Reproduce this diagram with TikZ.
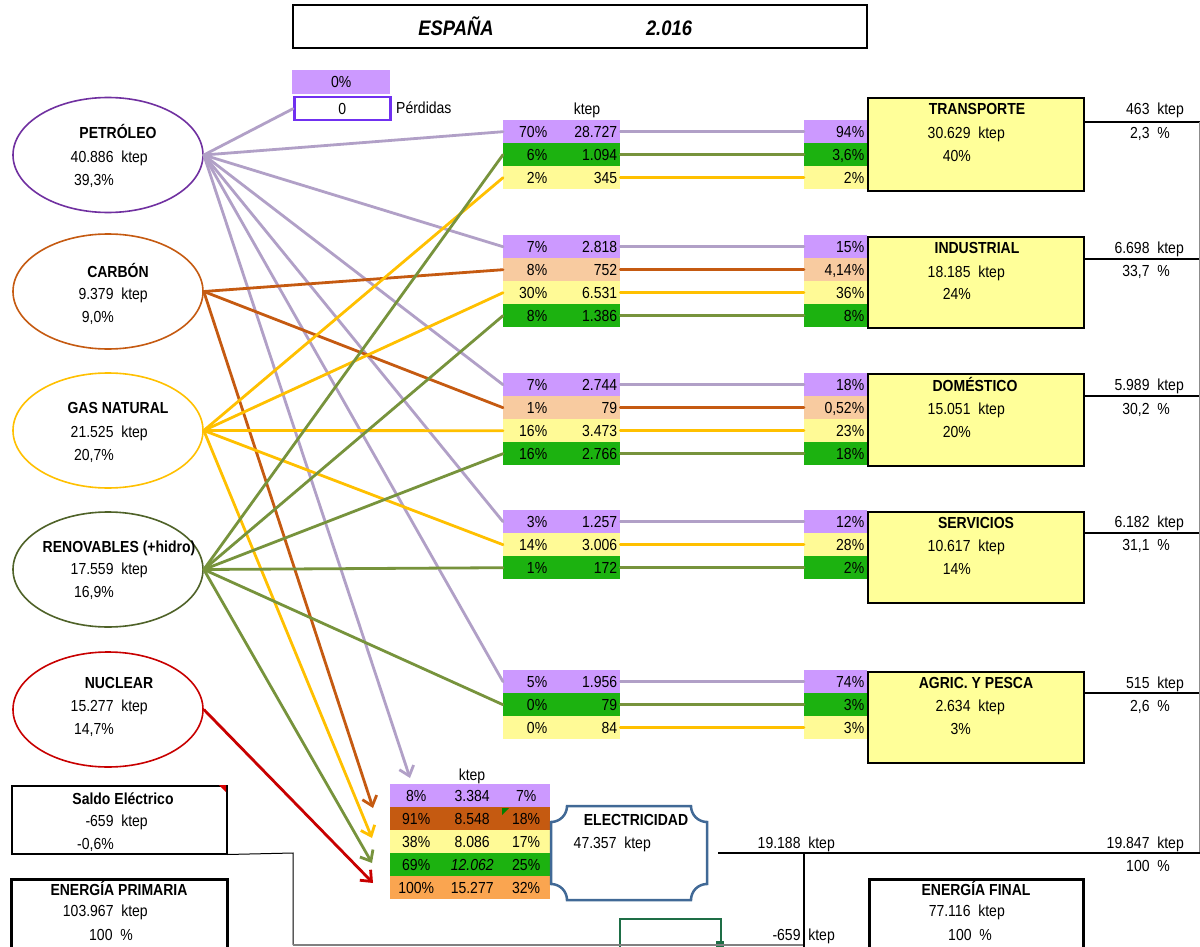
\documentclass[tikz,border=0pt]{standalone}
\usepackage{fontspec}
\setmainfont{Liberation Sans}[FakeStretch=0.875]
\usetikzlibrary{arrows.meta,shapes.geometric}
\definecolor{fillP}{RGB}{204,153,255}
\definecolor{fillG}{RGB}{28,178,16}
\definecolor{fillY}{RGB}{255,250,150}
\definecolor{fillS}{RGB}{248,203,160}
\definecolor{fillB}{RGB}{197,90,17}
\definecolor{fillO}{RGB}{250,165,80}
\definecolor{secY}{RGB}{255,255,153}
\definecolor{lnP}{RGB}{177,160,199}
\definecolor{lnC}{RGB}{197,90,17}
\definecolor{lnG}{RGB}{255,192,0}
\definecolor{lnR}{RGB}{119,147,60}
\definecolor{lnN}{RGB}{200,0,0}
\definecolor{elP}{RGB}{112,48,160}
\definecolor{elR}{RGB}{79,98,40}
\definecolor{elecB}{RGB}{65,105,150}
\definecolor{perdB}{RGB}{112,48,240}
\definecolor{boxG}{RGB}{30,110,70}
\tikzset{
  every node/.style={font=\fontsize{16}{19}\selectfont, inner sep=0pt, text height=11.5pt, text depth=0pt},
  cellbase/.style={minimum height=23pt, anchor=north west},
  lc/.style={cellbase, minimum width=117pt, fill=#1},
  rc/.style={cellbase, minimum width=63pt, fill=#1},
  ec/.style={cellbase, minimum width=160pt, fill=#1},
  src/.style={draw=#1, line width=1.6pt, ellipse, minimum width=190pt, minimum height=115pt},
  sector/.style={draw=black, line width=2pt, fill=secY, anchor=north west, minimum width=216pt},
  flow/.style={line width=2.8pt, line cap=round},
  arr/.style={line width=2.8pt, -{Straight Barb[length=9pt,width=15pt]}},
  rt/.style={anchor=east},
  bt/.style={font=\fontsize{16}{19}\selectfont\bfseries},
  ttl/.style={font=\fontsize{21}{24}\selectfont\bfseries\itshape, text height=15pt},
}
\newcommand\LC[5]{\node[lc=#2] (#1) at (503,#3) {\makebox[44pt][r]{#4}\makebox[70pt][r]{#5}\hspace*{3pt}};}
\newcommand\RC[4]{\node[rc=#2] (#1) at (804,#3) {\makebox[60pt][r]{#4}\hspace*{3pt}};}
\newcommand\EC[6]{\node[ec=#2] (#1) at (390,#3) {\makebox[52pt]{#4}\makebox[60pt]{#5}\makebox[48pt]{#6}};}
\begin{document}
\begin{tikzpicture}[x=1pt,y=-1pt]
\useasboundingbox (0,0) rectangle (1200,947);
\fill[white] (0,0) rectangle (1200,947);

% title
\node[draw, line width=1.5pt, minimum width=574pt, minimum height=43pt, text height=0pt] (title) at (580,26.5) {};
\node[ttl] (tEsp) at (456,28) {ESPAÑA};
\node[ttl] (tYear) at (669,28) {2.016};

% perdidas
\node[cellbase, fill=fillP, minimum width=98pt, minimum height=24pt] (perdpct) at (292,70) {0\%};
\node[cellbase, draw=perdB, line width=2.5pt, minimum width=96pt, minimum height=23pt] (perd) at (293,96) {0};
\node[anchor=west] (perdL) at (396,108) {Pérdidas};
\node (ktepTop) at (587,109) {ktep};

% source ellipses
\node[src=elP] (pet) at (108,155) {};
\node[src=lnC] (car) at (108,291.5) {};
\node[src=lnG] (gas) at (108,430.5) {};
\node[src=elR] (ren) at (108,569.5) {};
\node[src=lnN] (nuc) at (108,709.5) {};
\node[bt] (petN) at (118,133) {PETRÓLEO};
\node[rt] (petV) at (148,157) {40.886~~ktep};
\node[rt] (petP) at (114,180) {39,3\%};
\node[bt] (carN) at (118,272) {CARBÓN};
\node[rt] (carV) at (148,294) {9.379~~ktep};
\node[rt] (carP) at (114,317) {9,0\%};
\node[bt] (gasN) at (118,408) {GAS NATURAL};
\node[rt] (gasV) at (148,432) {21.525~~ktep};
\node[rt] (gasP) at (114,455) {20,7\%};
\node[bt] (renN) at (119,547) {RENOVABLES (+hidro)};
\node[rt] (renV) at (148,569) {17.559~~ktep};
\node[rt] (renP) at (114,592) {16,9\%};
\node[bt] (nucN) at (119,683) {NUCLEAR};
\node[rt] (nucV) at (148,706) {15.277~~ktep};
\node[rt] (nucP) at (114,729) {14,7\%};

% left cells
\LC{t1}{fillP}{120}{70\%}{28.727}
\LC{t2}{fillG}{143}{6\%}{1.094}
\LC{t3}{fillY}{166}{2\%}{345}
\LC{i1}{fillP}{235}{7\%}{2.818}
\LC{i2}{fillS}{258}{8\%}{752}
\LC{i3}{fillY}{281}{30\%}{6.531}
\LC{i4}{fillG}{304}{8\%}{1.386}
\LC{d1}{fillP}{373}{7\%}{2.744}
\LC{d2}{fillS}{396}{1\%}{79}
\LC{d3}{fillY}{419}{16\%}{3.473}
\LC{d4}{fillG}{442}{16\%}{2.766}
\LC{s1}{fillP}{510}{3\%}{1.257}
\LC{s2}{fillY}{533}{14\%}{3.006}
\LC{s3}{fillG}{556}{1\%}{172}
\LC{a1}{fillP}{670}{5\%}{1.956}
\LC{a2}{fillG}{693}{0\%}{79}
\LC{a3}{fillY}{716}{0\%}{84}

% right cells
\RC{T1}{fillP}{120}{94\%}
\RC{T2}{fillG}{143}{3,6\%}
\RC{T3}{fillY}{166}{2\%}
\RC{I1}{fillP}{235}{15\%}
\RC{I2}{fillS}{258}{4,14\%}
\RC{I3}{fillY}{281}{36\%}
\RC{I4}{fillG}{304}{8\%}
\RC{D1}{fillP}{373}{18\%}
\RC{D2}{fillS}{396}{0,52\%}
\RC{D3}{fillY}{419}{23\%}
\RC{D4}{fillG}{442}{18\%}
\RC{S1}{fillP}{510}{12\%}
\RC{S2}{fillY}{533}{28\%}
\RC{S3}{fillG}{556}{2\%}
\RC{A1}{fillP}{670}{74\%}
\RC{A2}{fillG}{693}{3\%}
\RC{A3}{fillY}{716}{3\%}

% sector boxes
\node[sector, minimum height=93pt] (tra) at (867,97) {};
\node[sector, minimum height=91pt] (ind) at (867,236) {};
\node[sector, minimum height=92pt] (dom) at (867,373) {};
\node[sector, minimum height=91pt] (ser) at (867,511) {};
\node[sector, minimum height=91pt] (agr) at (867,671) {};
\node[bt] (traN) at (977,109) {TRANSPORTE};
\node[rt] (traV) at (1005,133) {30.629~~ktep};
\node[rt] (traP) at (971,156) {40\%};
\node[bt] (indN) at (977,248) {INDUSTRIAL};
\node[rt] (indV) at (1005,272) {18.185~~ktep};
\node[rt] (indP) at (971,294) {24\%};
\node[bt] (domN) at (975,386) {DOMÉSTICO};
\node[rt] (domV) at (1005,409) {15.051~~ktep};
\node[rt] (domP) at (971,432) {20\%};
\node[bt] (serN) at (976,523) {SERVICIOS};
\node[rt] (serV) at (1005,546) {10.617~~ktep};
\node[rt] (serP) at (971,569) {14\%};
\node[bt] (agrN) at (976,683) {AGRIC. Y PESCA};
\node[rt] (agrV) at (1005,706) {2.634~~ktep};
\node[rt] (agrP) at (971,729) {3\%};

% right labels
\node[rt] (traK) at (1184,109) {463~~ktep};
\node[rt] (traQ) at (1170,133) {2,3~~\%};
\node[rt] (indK) at (1184,248) {6.698~~ktep};
\node[rt] (indQ) at (1170,271) {33,7~~\%};
\node[rt] (domK) at (1184,385) {5.989~~ktep};
\node[rt] (domQ) at (1170,409) {30,2~~\%};
\node[rt] (serK) at (1184,522) {6.182~~ktep};
\node[rt] (serQ) at (1170,545) {31,1~~\%};
\node[rt] (agrK) at (1184,683) {515~~ktep};
\node[rt] (agrQ) at (1170,706) {2,6~~\%};
\draw[line width=1.5pt] (1083,122) -- (1200,122);
\draw[line width=1.5pt] (1083,259) -- (1200,259);
\draw[line width=1.5pt] (1083,396) -- (1200,396);
\draw[line width=1.5pt] (1083,533) -- (1200,533);
\draw[line width=1.5pt] (1083,693) -- (1200,693);
\draw[black!45, line width=1pt] (1199,122) -- (1199,853);

% electricity table
\node (ktepE) at (472,775) {ktep};
\EC{e1}{fillP}{784}{8\%}{3.384}{7\%}
\EC{e2}{fillB}{807}{91\%}{8.548}{18\%}
\EC{e3}{fillY}{830}{38\%}{8.086}{17\%}
\EC{e4}{fillG}{853}{69\%}{\textit{12.062}}{25\%}
\EC{e5}{fillO}{876}{100\%}{15.277}{32\%}
\fill[green!50!black] (502,808) -- (509,808) -- (502,815) -- cycle;

% electricidad plaque
\draw[elecB, line width=2.5pt, fill=white] (567,806) -- (691,806)
  arc[start angle=180, end angle=90, radius=16] -- (707,884)
  arc[start angle=270, end angle=180, radius=16] -- (567,900)
  arc[start angle=0, end angle=-90, radius=16] -- (551,822)
  arc[start angle=90, end angle=0, radius=16] -- cycle;
\node[bt] (elecN) at (636,820) {ELECTRICIDAD};
\node[rt] (elecV) at (651,843) {47.357~~ktep};

% bottom boxes
\node[draw, line width=1.5pt, anchor=north west, minimum width=215pt, minimum height=68pt] (saldo) at (11,785) {};
\fill[red!85!black] (219,785) -- (226,785) -- (226,792) -- cycle;
\node[bt] (saldoN) at (123,799) {Saldo Eléctrico};
\node[rt] (saldoV) at (148,821) {-659~~ktep};
\node[rt] (saldoP) at (114,844) {-0,6\%};
\node[draw, line width=3pt, anchor=north west, minimum width=216pt, minimum height=80pt] (prim) at (10,878) {};
\node[bt] (primN) at (119,890) {ENERGÍA PRIMARIA};
\node[rt] (primV) at (148,911) {103.967~~ktep};
\node[rt] (primP) at (133,935) {100~~\%};
\node[draw, line width=3pt, anchor=north west, minimum width=214pt, minimum height=80pt] (fin) at (868,878) {};
\node[bt] (finN) at (976,890) {ENERGÍA FINAL};
\node[rt] (finV) at (1005,911) {77.116~~ktep};
\node[rt] (finP) at (992,935) {100~~\%};

\draw[boxG, line width=2.5pt] (620,952) -- (620,919) -- (721,919) -- (721,952);
\fill[boxG] (716,941) rectangle (724,948);

\draw[line width=1pt] (saldo.south east) -- (293,853) -- (293,945);
\draw[black!50, line width=1.2pt] (293,945) -- (804,945);
\draw[line width=1.8pt] (718,853) -- (1200,853);
\draw[line width=1.2pt] (804,853) -- (804,947);
\node[rt] (elK) at (835,843) {19.188~~ktep};
\node[rt] (salK) at (835,935) {-659~~ktep};
\node[rt] (finK) at (1184,843) {19.847~~ktep};
\node[rt] (finQ) at (1170,866) {100~~\%};

% arrow targets
\coordinate (aPet) at (410,778);
\coordinate (aCar) at (373,808);
\coordinate (aGas) at (372,838);
\coordinate (aRen) at (372,863);
\coordinate (aNuc) at (373,883);

% petroleo flows
\draw[flow, lnP] (pet.east) -- (perd.west);
\draw[flow, lnP] (pet.east) -- (t1.west);
\draw[flow, lnP] (pet.east) -- (i1.west);
\draw[flow, lnP] (pet.east) -- (d1.west);
\draw[flow, lnP] (pet.east) -- (s1.west);
\draw[flow, lnP] (pet.east) -- (a1.west);
\draw[arr, lnP] (pet.east) -- (aPet);
% carbon flows
\draw[flow, lnC] (car.east) -- (i2.west);
\draw[flow, lnC] (car.east) -- (d2.west);
\draw[arr, lnC] (car.east) -- (aCar);
% gas flows
\draw[flow, lnG] (gas.east) -- (t3.west);
\draw[flow, lnG] (gas.east) -- (i3.west);
\draw[flow, lnG] (gas.east) -- (d3.west);
\draw[flow, lnG] (gas.east) -- (s2.west);
\draw[arr, lnG] (gas.east) -- (aGas);
% renovables flows
\draw[flow, lnR] (ren.east) -- (t2.west);
\draw[flow, lnR] (ren.east) -- (i4.west);
\draw[flow, lnR] (ren.east) -- (d4.west);
\draw[flow, lnR] (ren.east) -- (s3.west);
\draw[flow, lnR] (ren.east) -- (a2.west);
\draw[arr, lnR] (ren.east) -- (aRen);
% nuclear
\draw[arr, lnN] (nuc.east) -- (aNuc);

% horizontal flows to sectors
\draw[flow, lnP] (t1.east) -- (T1.west);
\draw[flow, lnR] (t2.east) -- (T2.west);
\draw[flow, lnG] (t3.east) -- (T3.west);
\draw[flow, lnP] (i1.east) -- (I1.west);
\draw[flow, lnC] (i2.east) -- (I2.west);
\draw[flow, lnG] (i3.east) -- (I3.west);
\draw[flow, lnR] (i4.east) -- (I4.west);
\draw[flow, lnP] (d1.east) -- (D1.west);
\draw[flow, lnC] (d2.east) -- (D2.west);
\draw[flow, lnG] (d3.east) -- (D3.west);
\draw[flow, lnR] (d4.east) -- (D4.west);
\draw[flow, lnP] (s1.east) -- (S1.west);
\draw[flow, lnG] (s2.east) -- (S2.west);
\draw[flow, lnR] (s3.east) -- (S3.west);
\draw[flow, lnP] (a1.east) -- (A1.west);
\draw[flow, lnR] (a2.east) -- (A2.west);
\draw[flow, lnG] (a3.east) -- (A3.west);
\end{tikzpicture}
\end{document}
